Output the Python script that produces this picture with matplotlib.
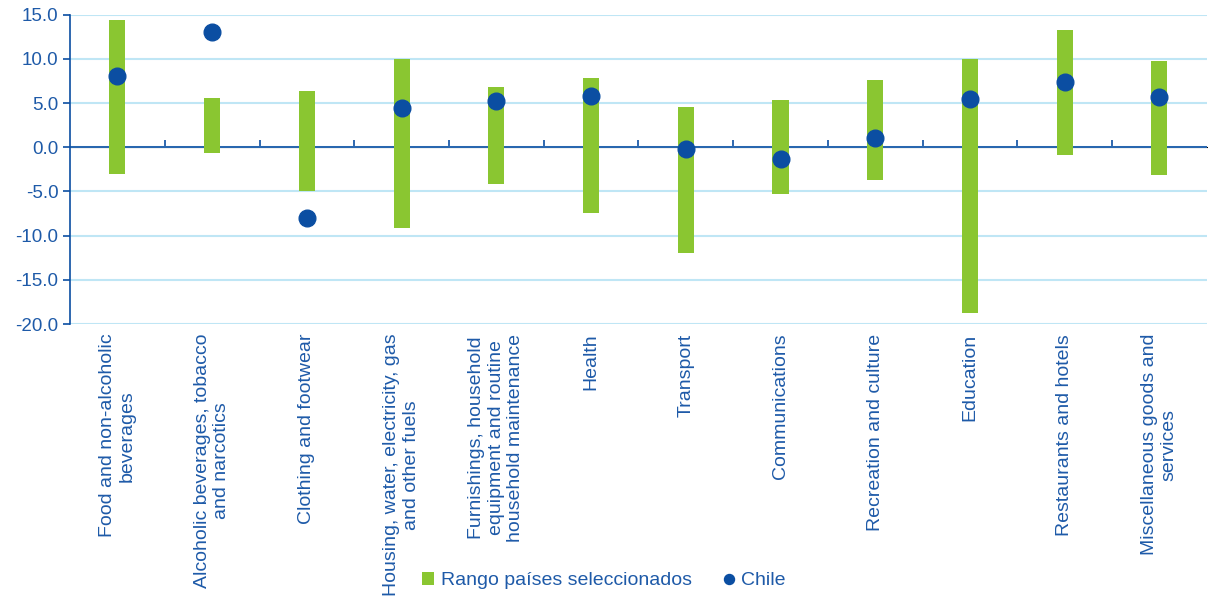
import matplotlib.pyplot as plt
from matplotlib.ticker import FormatStrFormatter

plt.rcParams['font.family'] = ['Liberation Sans', 'DejaVu Sans']
plt.rcParams['axes.unicode_minus'] = False

# Categories and values
categories = [
    'Food and non-alcoholic\nbeverages',
    'Alcoholic beverages, tobacco\nand narcotics',
    'Clothing and footwear',
    'Housing, water, electricity, gas\nand other fuels',
    'Furnishings, household\nequipment and routine\nhousehold maintenance',
    'Health',
    'Transport',
    'Communications',
    'Recreation and culture',
    'Education',
    'Restaurants and hotels',
    'Miscellaneous goods and\nservices',
]
range_low = [-3.0, -0.6, -4.9, -9.1, -4.1, -7.4, -12.0, -5.3, -3.7, -18.7, -0.9, -3.1]
range_high = [14.4, 5.6, 6.4, 10.0, 6.8, 7.8, 4.6, 5.3, 7.6, 10.0, 13.2, 9.8]
chile = [8.0, 13.0, -8.0, 4.4, 5.2, 5.8, -0.2, -1.3, 1.1, 5.4, 7.4, 5.7]

green = '#8AC631'
navy = '#0B4EA2'
text_col = '#1E5AA8'
grid_col = '#BFE6F5'

fig = plt.figure(figsize=(12.08, 6.07), dpi=100)
ax = fig.add_axes([0.058, 0.466, 0.941, 0.51])

x = list(range(len(categories)))
heights = [h - l for h, l in zip(range_high, range_low)]
bars = ax.bar(x, heights, bottom=range_low, width=0.17, color=green, zorder=3,
              label='Rango países seleccionados')
dots, = ax.plot(x, chile, 'o', color=navy, markersize=12, zorder=4, label='Chile')

ax.set_xlim(-0.5, len(categories) - 0.5)
ax.set_ylim(-20, 15)
ax.set_yticks([15, 10, 5, 0, -5, -10, -15, -20])
ax.yaxis.set_major_formatter(FormatStrFormatter('%.1f'))
ax.grid(axis='y', color=grid_col, linewidth=1.5, zorder=0)
ax.set_axisbelow(True)

for side in ['top', 'right', 'bottom']:
    ax.spines[side].set_visible(False)
ax.spines['left'].set_color(navy)
ax.spines['left'].set_linewidth(1.2)
ax.tick_params(axis='y', colors=navy, labelcolor=text_col, labelsize=13.5,
               length=5, width=1.2, direction='out')

ax.set_xticks(x)
ax.set_xticklabels(categories, rotation=90, va='top', ha='center',
                   multialignment='center', fontsize=14, color=text_col)
ax.tick_params(axis='x', length=0, pad=7)

# zero line with category separator ticks
ax.axhline(0, color=navy, linewidth=1.2, zorder=2)
sec = ax.secondary_xaxis(20 / 35)
sec.set_xticks([i + 0.5 for i in x[:-1]])
sec.set_xticklabels([])
sec.tick_params(axis='x', length=5, width=1.2, colors=navy, direction='out')
sec.spines['bottom'].set_visible(False)

fig.legend([bars, dots], ['Rango países seleccionados', 'Chile'],
           loc='center', bbox_to_anchor=(0.5, 0.043), ncol=2, frameon=False,
           fontsize=14, labelcolor=text_col, handlelength=0.6, handleheight=0.6,
           handletextpad=0.35, columnspacing=1.6, markerscale=0.6)

plt.savefig('out.png', dpi=100)
